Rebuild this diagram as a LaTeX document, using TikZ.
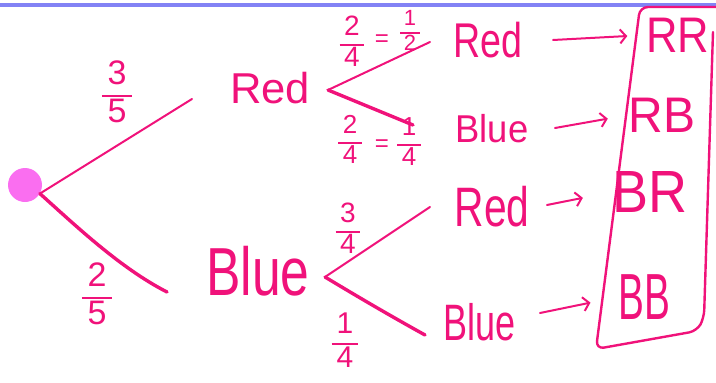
\documentclass[tikz,border=0pt]{standalone}
\usepackage{fontspec}
\usepackage{graphicx}
\setmainfont{Liberation Sans}
\usetikzlibrary{arrows.meta}
\definecolor{ink}{RGB}{240,18,122}
\definecolor{topline}{RGB}{130,130,245}
\definecolor{dotc}{RGB}{250,110,240}
\newcommand\hwtext[3]{\fontsize{40}{40}\selectfont\scalebox{#1}[#2]{#3}}
\newcommand\hfr[3]{\fontsize{#1}{#1}\selectfont\setlength\arrayrulewidth{1.4pt}\renewcommand\arraystretch{1.08}\begin{tabular}{@{\,}c@{\,}}#2\\\hline #3\end{tabular}}
\begin{document}
\begin{tikzpicture}[x=1pt,y=-1pt,line cap=round,line join=round,
  word/.style={text=ink,inner sep=0pt},
  branch/.style={draw=ink,line width=2pt},
  heavy/.style={draw=ink,line width=3.4pt},
  pointer/.style={draw=ink,line width=2pt,-{Straight Barb[length=6pt,width=14pt]}}]
\useasboundingbox (0,0) rectangle (716,383);
\draw[topline,line width=4pt] (0,5) -- (716,5);
% root
\node[circle,fill=dotc,minimum size=34pt,inner sep=0pt] (root) at (25,185) {};
% first level
\node[word] (red1) at (270,88) {\hwtext{1.09}{1.08}{Red}};
\node[word] (blue1) at (258,271) {\hwtext{1.29}{1.7}{Blue}};
\coordinate (e1) at (192,99);
\coordinate (e2) at (167,292);
\draw[branch] (root.-30) -- (e1);
\draw[heavy] (root.-30) .. controls (75,225) and (120,268) .. (e2);
\node[word] (f35) at (117,96) {\hfr{34}{3}{5}};
\node[word] (f25) at (97,298) {\hfr{34}{2}{5}};
% second level from Red
\coordinate (rs) at (328,90);
\coordinate (rre) at (430,42);
\coordinate (rbe) at (413,125);
\draw[branch] (rs) -- (rre);
\draw[heavy] (rs) -- (rbe);
\node[word] (red2) at (488,40) {\hwtext{0.94}{1.22}{Red}};
\node[word] (blue2) at (492,129) {\hwtext{0.91}{0.97}{Blue}};
\node[word] (f24a) at (352,45) {\hfr{28}{2}{4}};
\node[word,font=\fontsize{24}{24}\selectfont] (eqa) at (382,41) {=};
\node[word] (f12) at (410,33) {\hfr{22}{1}{2}};
\node[word] (f24b) at (350,143) {\hfr{26}{2}{4}};
\node[word,font=\fontsize{24}{24}\selectfont] (eqb) at (382,146) {=};
\node[word] (f14a) at (409,145) {\hfr{26}{1}{4}};
% second level from Blue
\coordinate (bs) at (325,277);
\coordinate (bre) at (430,207);
\coordinate (bbe) at (425,335);
\draw[branch] (bs) -- (bre);
\draw[heavy] (bs) .. controls (350,292) and (380,310) .. (bbe);
\node[word] (red3) at (492,207) {\hwtext{1.02}{1.39}{Red}};
\node[word] (blue3) at (480,322) {\hwtext{0.9}{1.28}{Blue}};
\node[word] (f34) at (348,232) {\hfr{28}{3}{4}};
\node[word] (f14b) at (345,344) {\hfr{30}{1}{4}};
% outcomes
\node[word] (rr) at (678,35) {\hwtext{1.09}{1.25}{RR}};
\node[word] (rb) at (662,115) {\hwtext{1.2}{1.25}{RB}};
\node[word] (br) at (650,192) {\hwtext{1.35}{1.49}{BR}};
\node[word] (bb) at (644,297) {\hwtext{0.97}{1.63}{BB}};
\coordinate (a1) at (553,40);
\coordinate (a2) at (555,128);
\coordinate (a3) at (547,205);
\coordinate (a4) at (540,313);
\draw[pointer,shorten >=19pt] (a1) -- (rr.west);
\draw[pointer,shorten >=21pt] (a2) -- (rb.west);
\draw[pointer,shorten >=30pt] (a3) -- (br.west);
\draw[pointer,shorten >=28pt] (a4) -- (bb.west);
% box
\draw[draw=ink,line width=2.4pt,rounded corners=8pt]
  (716,7) -- (640,7) -- (596,349) -- (697,331) -- (704,318) -- (713,32);
\end{tikzpicture}
\end{document}
